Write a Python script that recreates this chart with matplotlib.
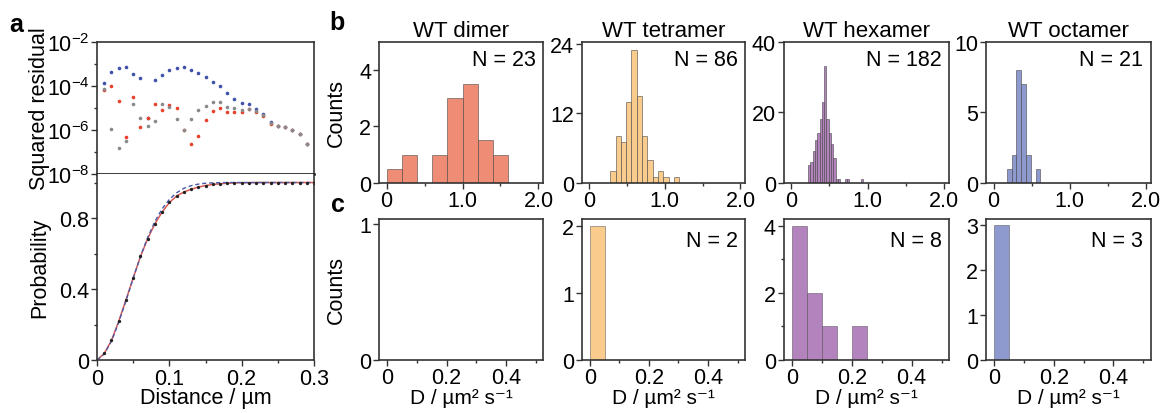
import numpy as np
import matplotlib
matplotlib.use("Agg")
import matplotlib.pyplot as plt
from matplotlib.ticker import FixedLocator, NullFormatter

plt.rcParams['font.family'] = ['Liberation Sans', 'DejaVu Sans']
plt.rcParams['mathtext.fontset'] = 'custom'
plt.rcParams['mathtext.rm'] = 'Liberation Sans'
plt.rcParams['mathtext.it'] = 'Liberation Sans:italic'
plt.rcParams['axes.unicode_minus'] = False

# ---- panel a: squared residuals of the three fits ----
dist = np.round(np.arange(1, 30) * 0.01, 2)   # 0.01 ... 0.29 um
res_blue = [1.3e-4, 4.5e-4, 6.3e-4, 7.1e-4, 3.5e-4, 2.2e-4, 3.4e-6, 1.8e-4, 3.2e-4, 5.4e-4,
            6.6e-4, 7.1e-4, 5.4e-4, 3.8e-4, 2.5e-4, 1.6e-4, 1.0e-4, 4.8e-5, 2.6e-5, 1.7e-5,
            1.5e-5, 8.7e-6, 5.5e-6, 2.2e-6, 1.6e-6, 1.3e-6, 9.8e-7, 6.8e-7, 2.4e-7]
res_red = [6.6e-5, 9.8e-5, 2.1e-5, 4.8e-7, 3.1e-5, 1.3e-6, 3.5e-6, 1.5e-5, 7.9e-6, 1.4e-5,
           1.0e-5, 1.0e-6, 2.3e-7, 5.4e-7, 2.8e-6, 7.2e-6, 1.0e-5, 6.8e-6, 6.3e-6, 6.3e-6,
           8.9e-6, 6.3e-6, 4.2e-6, 1.8e-6, 1.6e-6, 1.3e-6, 9.8e-7, 6.8e-7, 2.4e-7]
res_gray = [7.0e-5, 1.1e-6, 1.6e-7, 3.1e-7, 1.5e-5, 3.4e-6, 1.6e-6, 2.5e-6, 1.5e-5, 1.1e-5,
            3.1e-6, 1.0e-6, 3.1e-6, 8.1e-6, 1.2e-5, 1.8e-5, 1.9e-5, 1.1e-5, 9.8e-6, 8.3e-6,
            8.9e-6, 7.1e-6, 4.8e-6, 2.1e-6, 1.6e-6, 1.3e-6, 9.8e-7, 6.8e-7, 2.4e-7]

# ---- panel a: cumulative probability, data and fits ----
cdf_x = np.round(np.arange(0, 31) * 0.01, 2)   # 0 ... 0.30 um
cdf_data = [0.0, 0.038, 0.111, 0.218, 0.338, 0.464, 0.584, 0.682, 0.766, 0.832, 0.888,
            0.925, 0.947, 0.962, 0.974, 0.983, 0.989, 0.993, 0.996, 0.998, 0.999,
            0.999, 1.0, 1.0, 1.0, 1.0, 1.0, 1.0, 1.0, 1.0, 1.0]
cdf_fit_red = [0.0, 0.036, 0.110, 0.218, 0.338, 0.462, 0.582, 0.683, 0.767, 0.833, 0.887,
               0.924, 0.946, 0.962, 0.974, 0.983, 0.989, 0.993, 0.996, 0.998, 0.999,
               0.999, 1.0, 1.0, 1.0, 1.0, 1.0, 1.0, 1.0, 1.0, 1.0]
cdf_fit_blue = [0.0, 0.034, 0.106, 0.212, 0.333, 0.460, 0.583, 0.690, 0.780, 0.852, 0.905,
                0.942, 0.967, 0.982, 0.991, 0.996, 0.998, 0.999, 1.0, 1.0, 1.0,
                1.0, 1.0, 1.0, 1.0, 1.0, 1.0, 1.0, 1.0, 1.0, 1.0]

# ---- panel b/c: diffusion coefficient histograms ----
names = ['WT dimer', 'WT tetramer', 'WT hexamer', 'WT octamer']
colors = ['#ee8c76', '#f9cb8c', '#b383bd', '#8e9acd']

b_start = [0.0, 0.28, 0.22, 0.175]
b_width = [0.2, 0.07, 0.03, 0.0625]
b_counts = [
    [0.5, 1, 0, 1, 3, 3.5, 1.5, 1],
    [2, 8, 7, 14, 23, 15, 8, 4, 1, 2, 1, 0, 1],
    [5, 6, 9, 12, 14, 18, 23, 33, 18, 14, 11, 7, 1, 1, 0, 0, 1, 1, 0, 0, 0, 0, 0, 1],
    [1, 2, 8, 7, 2, 0, 1],
]
b_n = [23, 86, 182, 21]
b_ymax = [5, 24.4, 40, 10]
b_yticks = [[0, 2, 4], [0, 12, 24], [0, 20, 40], [0, 5, 10]]

c_width = 0.05
c_counts = [[], [2], [4, 2, 1, 0, 1], [3]]
c_n = [None, 2, 8, 3]
c_ymax = [1.04, 2.1, 4.2, 3.13]
c_yticks = [[0, 1], [0, 1, 2], [0, 2, 4], [0, 1, 2, 3]]

W, H = 1162, 414
fig = plt.figure(figsize=(W / 100, H / 100), dpi=100)

fs = 15.5      # labels and annotations
tfs = 15.5     # tick labels


def px_axes(x0, y0, x1, y1):
    return fig.add_axes([x0 / W, 1 - y1 / H, (x1 - x0) / W, (y1 - y0) / H])


def style(ax, lw=1.2):
    for s in ax.spines.values():
        s.set_linewidth(lw)
        s.set_color('#333333')
    ax.tick_params(which='both', direction='out', width=1.0, color='#333333',
                   labelsize=tfs, pad=1.5)
    ax.tick_params(which='major', length=4)
    ax.tick_params(which='minor', length=2.5)
    ax.tick_params(top=False, right=False)


# ---- panel a, top: residuals ----
ax_r = px_axes(97, 43, 314, 175)
ax_r.plot(dist, res_blue, 'o', ms=2.6, color='#3f51a8', mew=0)
ax_r.plot(dist, res_red, 'o', ms=2.6, color='#e8412b', mew=0)
ax_r.plot(dist, res_gray, 'o', ms=2.6, color='#8a8a8a', mew=0)
ax_r.set_yscale('log')
ax_r.set_ylim(1e-8, 1e-2)
ax_r.set_xlim(0, 0.3)
style(ax_r)
ax_r.yaxis.set_major_locator(FixedLocator([1e-8, 1e-6, 1e-4, 1e-2]))
ax_r.yaxis.set_minor_locator(FixedLocator([1e-7, 1e-5, 1e-3]))
ax_r.yaxis.set_minor_formatter(NullFormatter())
ax_r.set_yticklabels([r'10$^{-8}$', r'10$^{-6}$', r'10$^{-4}$', r'10$^{-2}$'])
ax_r.tick_params(axis='x', which='both', bottom=False, labelbottom=False)
ax_r.spines['bottom'].set_linewidth(1.8)
ax_r.spines['bottom'].set_color('black')
ax_r.set_ylabel('Squared residual', fontsize=fs)
ax_r.yaxis.set_label_coords(-0.215, 0.5)

# ---- panel a, bottom: cumulative distribution ----
ax_p = px_axes(97, 175, 314, 361)
ax_p.plot(cdf_x, cdf_fit_red, '-', color='#d85a55', lw=1.1)
ax_p.plot(cdf_x, cdf_fit_blue, '--', color='#4a5aa8', lw=1.0, dashes=(3, 2))
ax_p.plot(cdf_x[1:], cdf_data[1:], 'o', ms=2.4, color='#222222', mew=0)
ax_p.set_xlim(0, 0.3)
ax_p.set_ylim(0, 1.048)
style(ax_p)
ax_p.spines['top'].set_visible(False)
ax_p.set_yticks([0, 0.4, 0.8])
ax_p.set_yticklabels(['0', '0.4', '0.8'])
ax_p.yaxis.set_minor_locator(FixedLocator([0.2, 0.6, 1.0]))
ax_p.set_xticks([0, 0.1, 0.2, 0.3])
ax_p.set_xticklabels(['0', '0.1', '0.2', '0.3'])
ax_p.xaxis.set_minor_locator(FixedLocator([0.05, 0.15, 0.25]))
ax_p.set_xlabel('Distance / µm', fontsize=fs, labelpad=-1)
ax_p.set_ylabel('Probability', fontsize=fs)
ax_p.yaxis.set_label_coords(-0.215, 0.5)

# ---- panels b and c ----
lefts = [379, 581.5, 783.5, 986]
rights = [543, 745, 949, 1150.5]

for i in range(4):
    # b: full range
    ax = px_axes(lefts[i], 42.7, rights[i], 183.7)
    cnt = b_counts[i]
    edges = b_start[i] + b_width[i] * np.arange(len(cnt))
    ax.bar(edges, cnt, width=b_width[i], align='edge', color=colors[i],
           edgecolor=(0.25, 0.25, 0.25, 0.55), linewidth=0.7)
    ax.set_xlim(-0.1, 2.06)
    ax.set_ylim(0, b_ymax[i])
    style(ax)
    ax.set_yticks(b_yticks[i])
    ax.set_xticks([0, 1.0, 2.0])
    ax.set_xticklabels(['0', '1.0', '2.0'])
    ax.xaxis.set_minor_locator(FixedLocator([0.5, 1.5]))
    ax.set_title(names[i], fontsize=16, pad=4)
    ax.text(0.955, 0.95, 'N = %d' % b_n[i], transform=ax.transAxes,
            ha='right', va='top', fontsize=fs)
    if i == 0:
        ax.set_ylabel('Counts', fontsize=fs)
        ax.yaxis.set_label_coords(-0.195, 0.5)

    # c: low-D population
    ax = px_axes(lefts[i], 220, rights[i], 360.7)
    cnt = c_counts[i]
    if cnt:
        edges = c_width * np.arange(len(cnt))
        ax.bar(edges, cnt, width=c_width, align='edge', color=colors[i],
               edgecolor=(0.25, 0.25, 0.25, 0.45), linewidth=0.7)
    ax.set_xlim(-0.028, 0.525)
    ax.set_ylim(0, c_ymax[i])
    style(ax)
    ax.set_yticks(c_yticks[i])
    if i == 2:
        ax.yaxis.set_minor_locator(FixedLocator([1, 3]))
    ax.set_xticks([0, 0.2, 0.4])
    ax.set_xticklabels(['0', '0.2', '0.4'])
    ax.xaxis.set_minor_locator(FixedLocator([0.1, 0.3, 0.5]))
    ax.set_xlabel('D / µm² s⁻¹', fontsize=15, labelpad=0)
    if c_n[i] is not None:
        ax.text(0.955, 0.92, 'N = %d' % c_n[i], transform=ax.transAxes,
                ha='right', va='top', fontsize=fs)
    if i == 0:
        ax.set_ylabel('Counts', fontsize=fs)
        ax.yaxis.set_label_coords(-0.195, 0.5)

# panel letters
fig.text(9 / W, 1 - 32 / H, 'a', fontsize=18, fontweight='bold', va='baseline')
fig.text(329 / W, 1 - 30 / H, 'b', fontsize=18, fontweight='bold', va='baseline')
fig.text(331 / W, 1 - 212 / H, 'c', fontsize=18, fontweight='bold', va='baseline')

fig.savefig('out.png', dpi=100)
